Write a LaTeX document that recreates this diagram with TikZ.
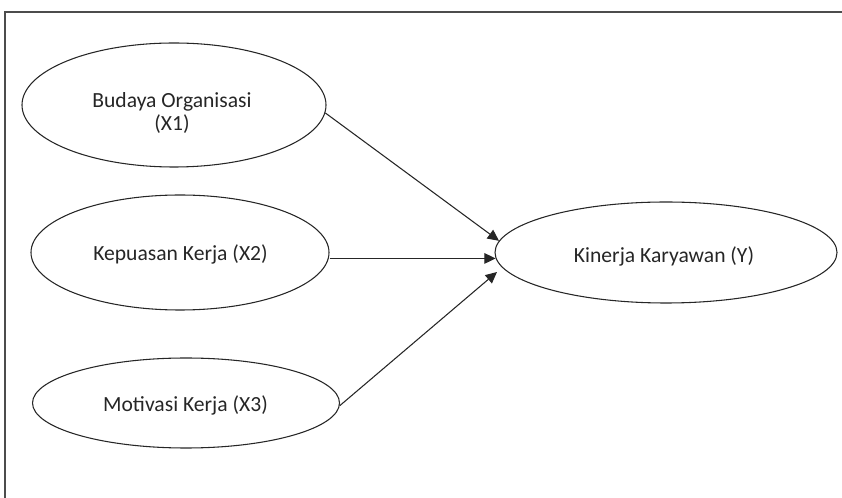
\documentclass[tikz,border=0pt]{standalone}
\usepackage{fontspec}
\setmainfont{Carlito}
\usetikzlibrary{shapes.geometric,arrows.meta}
\begin{document}
\begin{tikzpicture}[x=0.75pt,y=-0.75pt,
  oval/.style={draw=black!85,line width=0.8pt,ellipse,inner sep=0pt},
  lbl/.style={font=\fontsize{16.2}{17.25}\selectfont,text=black!85,align=center,inner sep=0pt},
  arr/.style={draw=black!85,line width=0.8pt,-{Triangle[length=8.5pt,width=8pt]}},
  frame/.style={draw=black!70,line width=0.9pt}]
\useasboundingbox (0,0) rectangle (842,498);
\draw[frame] (5,505) -- (5,12) -- (850,12);
\node[oval,minimum width=228pt,minimum height=93pt] (e1) at (174,105) {};
\node[oval,minimum width=223.5pt,minimum height=86.25pt] (e2) at (180,252.5) {};
\node[oval,minimum width=230.25pt,minimum height=67.5pt] (e3) at (186,403) {};
\node[oval,minimum width=256.5pt,minimum height=75.75pt] (y) at (666,252.5) {};
\node[lbl] (t1) at (172,113) {Budaya Organisasi\\(X1)};
\node[lbl] (t2) at (180.5,254) {Kepuasan Kerja (X2)};
\node[lbl] (t3) at (185.5,405) {Motivasi Kerja (X3)};
\node[lbl] (ty) at (664,256) {Kinerja Karyawan (Y)};
\coordinate (y3) at (497,272);
\draw[arr] (e1.-3) -- (y.176);
\draw[arr] (y.182 -| e2.east) -- (y.182);
\draw[arr] (e3.-1) -- (y3);
\end{tikzpicture}
\end{document}
